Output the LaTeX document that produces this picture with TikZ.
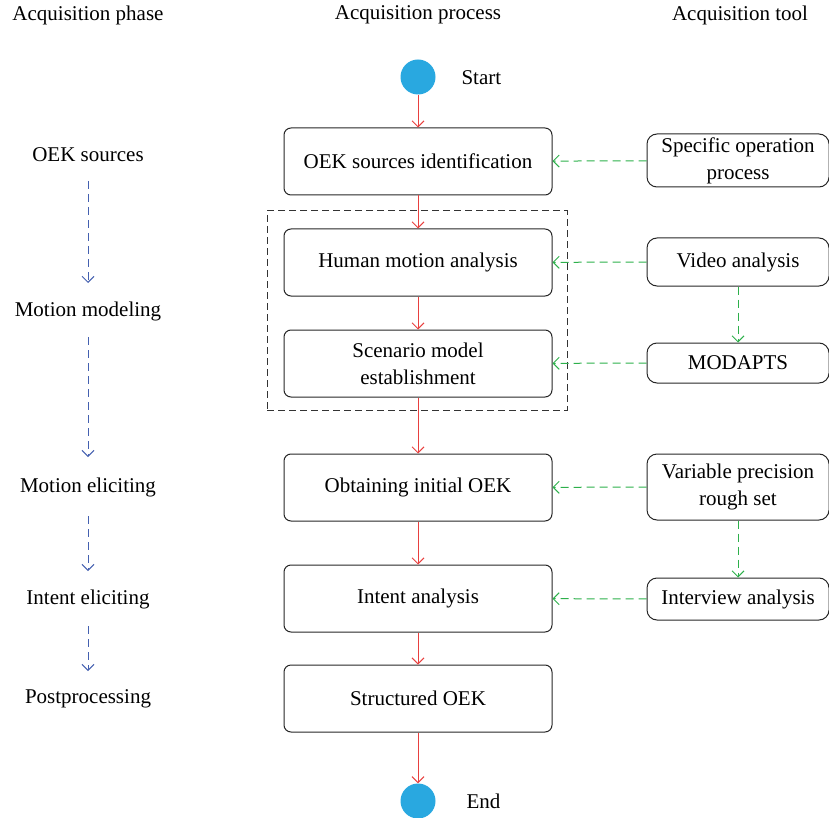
\documentclass[tikz,border=0pt]{standalone}
\usepackage{fontspec}
\setmainfont{Liberation Serif}
\usetikzlibrary{arrows.meta}
\definecolor{flowred}{HTML}{E8403F}
\definecolor{toolgreen}{HTML}{2DB04B}
\definecolor{phaseblue}{HTML}{4460B0}
\definecolor{dotblue}{HTML}{29A8E0}
\begin{document}
\begin{tikzpicture}[x=1pt,y=-1pt,
  font=\fontsize{21}{27}\selectfont,
  barb/.style={-{Straight Barb[length=6pt,width=12pt]}},
  procbox/.style={draw=black!85,line width=1pt,rounded corners=7pt,minimum width=268pt,minimum height=67pt,align=center,inner sep=2pt},
  toolbox/.style={draw=black!85,line width=1pt,rounded corners=10pt,minimum width=182pt,align=center,inner sep=2pt},
  dot/.style={circle,fill=dotblue,minimum size=35pt,inner sep=0pt},
  flow/.style={barb,draw=flowred,line width=1pt},
  feed/.style={barb,draw=toolgreen,line width=1pt,dash pattern=on 8pt off 5pt},
  phasearrow/.style={barb,draw=phaseblue,line width=1pt,dash pattern=on 8pt off 5pt},
  label/.style={anchor=center}]
\useasboundingbox (0,0) rectangle (829,818);

% column headings
\node[label] (h1) at (88,15) {Acquisition phase};
\node[label] (h2) at (418,15) {Acquisition process};
\node[label] (h3) at (740,15) {Acquisition tool};

% process chain
\node[dot] (start) at (418,77) {};
\node[anchor=west] (starttxt) at (458,78) {Start};
\node[procbox] (p1) at (418,161.5) {OEK sources identification};
\node[procbox] (p2) at (418,262.5) {Human motion analysis};
\node[procbox] (p3) at (418,363.5) {Scenario model\\establishment};
\node[procbox] (p4) at (418,487.5) {Obtaining initial OEK};
\node[procbox] (p5) at (418,598.5) {Intent analysis};
\node[procbox] (p6) at (418,698.5) {Structured OEK};
\node[dot] (end) at (418,801) {};
\node[anchor=west] (endtxt) at (463,801) {End};

% grouping frame around the motion modeling steps
\node[draw=black!80,line width=1pt,dash pattern=on 7pt off 4pt,minimum width=300pt,minimum height=199pt,inner sep=0pt] (grp) at (417,310.5) {};

\draw[flow] (start) -- (p1);
\draw[flow] (p1) -- (p2);
\draw[flow] (p2) -- (p3);
\draw[flow] (p3) -- (p4);
\draw[flow] (p4) -- (p5);
\draw[flow] (p5) -- (p6);
\draw[flow] (p6) -- (end);

% tools
\node[toolbox,minimum height=53pt] (t1) at (738,160.5) {Specific operation\\process};
\node[toolbox,minimum height=48pt] (t2) at (738,262) {Video analysis};
\node[toolbox,minimum height=40pt] (t3) at (738,363) {MODAPTS};
\node[toolbox,minimum height=66pt] (t4) at (738,487) {Variable precision\\rough set};
\node[toolbox,minimum height=42pt] (t5) at (738,599) {Interview analysis};

\draw[feed] (t1) -- (p1);
\draw[feed] (t2) -- (p2);
\draw[feed] (t3) -- (p3);
\draw[feed] (t4) -- (p4);
\draw[feed] (t5) -- (p5);
\draw[feed] (t2) -- (t3);
\draw[feed] (t4) -- (t5);

% phases
\node[label] (f1) at (88,155) {OEK sources};
\node[label] (f2) at (88,311) {Motion modeling};
\node[label] (f3) at (88,487) {Motion eliciting};
\node[label] (f4) at (88,599) {Intent eliciting};
\node[label] (f5) at (88,699) {Postprocessing};
\coordinate (a1s) at (88,181); \coordinate (a1e) at (88,283);
\coordinate (a2s) at (88,337); \coordinate (a2e) at (88,457);
\coordinate (a3s) at (88,516); \coordinate (a3e) at (88,571);
\coordinate (a4s) at (88,626); \coordinate (a4e) at (88,671);
\draw[phasearrow] (a1s) -- (a1e);
\draw[phasearrow] (a2s) -- (a2e);
\draw[phasearrow] (a3s) -- (a3e);
\draw[phasearrow] (a4s) -- (a4e);
\end{tikzpicture}
\end{document}
